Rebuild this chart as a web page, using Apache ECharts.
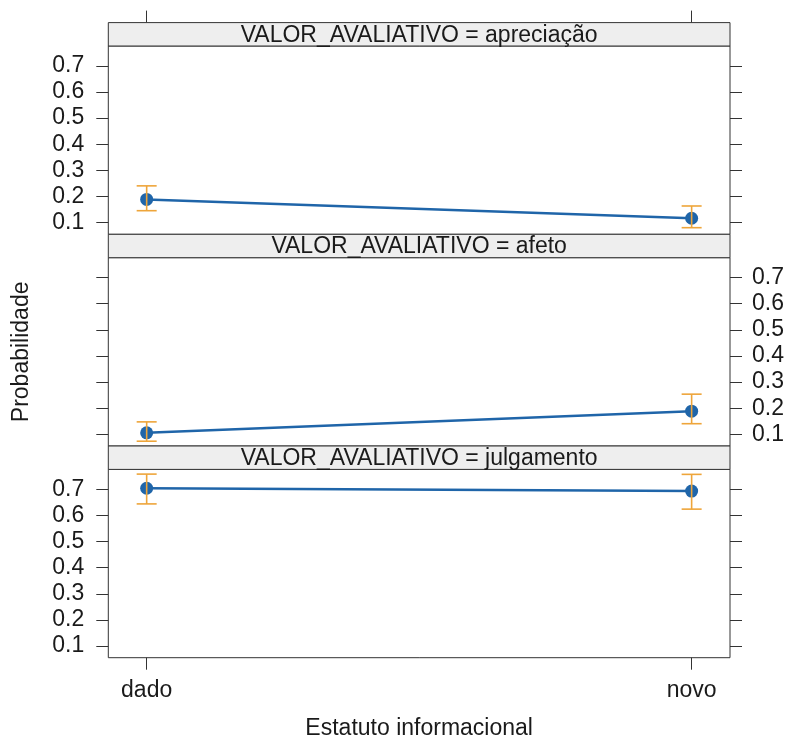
<!DOCTYPE html>
<html>
<head>
<meta charset="utf-8">
<script src="https://cdn.jsdelivr.net/npm/echarts@6/dist/echarts.min.js"></script>
<style>
  html, body { margin: 0; padding: 0; background: #ffffff; }
  #chart { width: 787px; height: 738px; }
</style>
</head>
<body>
<div id="chart"></div>
<script>
// ---------------- data ----------------
const categories = ['dado', 'novo'];
const panelNames = ['apreciação', 'afeto', 'julgamento'];
const stripPrefix = 'VALOR_AVALIATIVO = ';
const fitApreciacao = [0.189, 0.117];
const lowerApreciacao = [0.146, 0.081];
const upperApreciacao = [0.241, 0.164];
const fitAfeto = [0.106, 0.189];
const lowerAfeto = [0.074, 0.141];
const upperAfeto = [0.148, 0.254];
const fitJulgamento = [0.704, 0.693];
const lowerJulgamento = [0.644, 0.624];
const upperJulgamento = [0.758, 0.757];
const yTicks = [0.1, 0.2, 0.3, 0.4, 0.5, 0.6, 0.7];
const yTitle = 'Probabilidade';
const xTitle = 'Estatuto informacional';

const fits = [fitApreciacao, fitAfeto, fitJulgamento];
const lowers = [lowerApreciacao, lowerAfeto, lowerJulgamento];
const uppers = [upperApreciacao, upperAfeto, upperJulgamento];

// ---------------- layout / style ----------------
const FONT = '"Liberation Sans", Arial, Helvetica, sans-serif';
const FS = 23;
const TXT = '#1a1a1a';
const AX = '#333333';
const BLUE = '#1f65a9';
const ORANGE = '#eea53a';
const L = 108.3, R = 730, W = R - L;
const stripH = 23.4, panelH = 188.3;
const tops = [46, 257.7, 469.4];
const yMin = 0.0557, yMax = 0.776;
const xMin = -0.0704, xMax = 1.0704;
const xIdx = categories.map((c, i) => i);

const chart = echarts.init(document.getElementById('chart'), null, { renderer: 'canvas' });

const grids = tops.map(t => ({
  left: L, top: t, width: W, height: panelH,
  show: true, borderColor: AX, borderWidth: 1, backgroundColor: 'transparent',
  containLabel: false, outerBoundsMode: 'none'
}));

const xAxes = [];
tops.forEach((t, i) => {
  const isBottom = i === tops.length - 1;
  xAxes.push({
    gridIndex: i, type: 'value', position: 'bottom', min: xMin, max: xMax,
    axisLine: { show: false, onZero: false },
    splitLine: { show: false },
    axisTick: { show: isBottom, customValues: xIdx, length: 12, inside: false, lineStyle: { color: AX, width: 1 } },
    axisLabel: { show: isBottom, customValues: xIdx, formatter: v => categories[Math.round(v)], fontSize: FS, fontFamily: FONT, color: TXT, margin: 21 },
    name: isBottom ? xTitle : '',
    nameLocation: 'middle', nameGap: 59,
    nameTextStyle: { fontSize: FS, fontFamily: FONT, color: TXT }
  });
});
// top ticks above the first strip
xAxes.push({
  gridIndex: 0, type: 'value', position: 'top', offset: stripH, min: xMin, max: xMax,
  axisLine: { show: false, onZero: false }, splitLine: { show: false },
  axisTick: { show: true, customValues: xIdx, length: 12, lineStyle: { color: AX, width: 1 } },
  axisLabel: { show: false }
});

const yAxes = [];
tops.forEach((t, i) => {
  const leftLabels = i !== 1;
  ['left', 'right'].forEach(pos => {
    const showLab = pos === 'left' ? leftLabels : !leftLabels;
    yAxes.push({
      gridIndex: i, type: 'value', position: pos, min: yMin, max: yMax,
      axisLine: { show: false, onZero: false }, splitLine: { show: false },
      axisTick: { show: true, customValues: yTicks, length: 12, lineStyle: { color: AX, width: 1 } },
      axisLabel: { show: showLab, customValues: yTicks, formatter: v => v.toFixed(1), fontSize: FS, fontFamily: FONT, color: TXT, margin: pos === 'left' ? 24 : 22 },
      name: (pos === 'left' && i === 1) ? yTitle : '',
      nameLocation: 'middle', nameGap: 75, nameRotate: 90,
      nameTextStyle: { fontSize: FS, fontFamily: FONT, color: TXT }
    });
  });
});

const series = [];
panelNames.forEach((p, i) => {
  series.push({
    type: 'line', xAxisIndex: i, yAxisIndex: 2 * i,
    data: xIdx.map(j => [j, fits[i][j]]),
    symbol: 'circle', symbolSize: 13, showSymbol: true,
    lineStyle: { color: BLUE, width: 2.5 },
    itemStyle: { color: BLUE },
    z: 3, animation: false, silent: true
  });
  series.push({
    type: 'custom', xAxisIndex: i, yAxisIndex: 2 * i,
    data: xIdx.map(j => [j, lowers[i][j], uppers[i][j]]),
    renderItem: (params, api) => {
      const lo = api.coord([api.value(0), api.value(1)]);
      const hi = api.coord([api.value(0), api.value(2)]);
      const hw = 10;
      const st = { stroke: ORANGE, lineWidth: 1.6 };
      return {
        type: 'group',
        children: [
          { type: 'line', shape: { x1: lo[0], y1: lo[1], x2: hi[0], y2: hi[1] }, style: st },
          { type: 'line', shape: { x1: hi[0] - hw, y1: hi[1], x2: hi[0] + hw, y2: hi[1] }, style: st },
          { type: 'line', shape: { x1: lo[0] - hw, y1: lo[1], x2: lo[0] + hw, y2: lo[1] }, style: st }
        ]
      };
    },
    z: 4, animation: false, silent: true
  });
});

const graphics = [];
panelNames.forEach((p, i) => {
  const y0 = tops[i] - stripH;
  graphics.push({
    type: 'rect', shape: { x: L, y: y0, width: W, height: stripH },
    style: { fill: '#eeeeee', stroke: AX, lineWidth: 1 }, z: 10
  });
  graphics.push({
    type: 'text', x: L + W / 2, y: y0 + stripH / 2 + 1,
    style: { text: stripPrefix + p, fontSize: FS, fontFamily: FONT, fill: TXT, align: 'center', verticalAlign: 'middle' },
    z: 11
  });
});

chart.setOption({
  animation: false,
  backgroundColor: '#ffffff',
  grid: grids,
  xAxis: xAxes,
  yAxis: yAxes,
  series: series,
  graphic: graphics
});
</script>
</body>
</html>
